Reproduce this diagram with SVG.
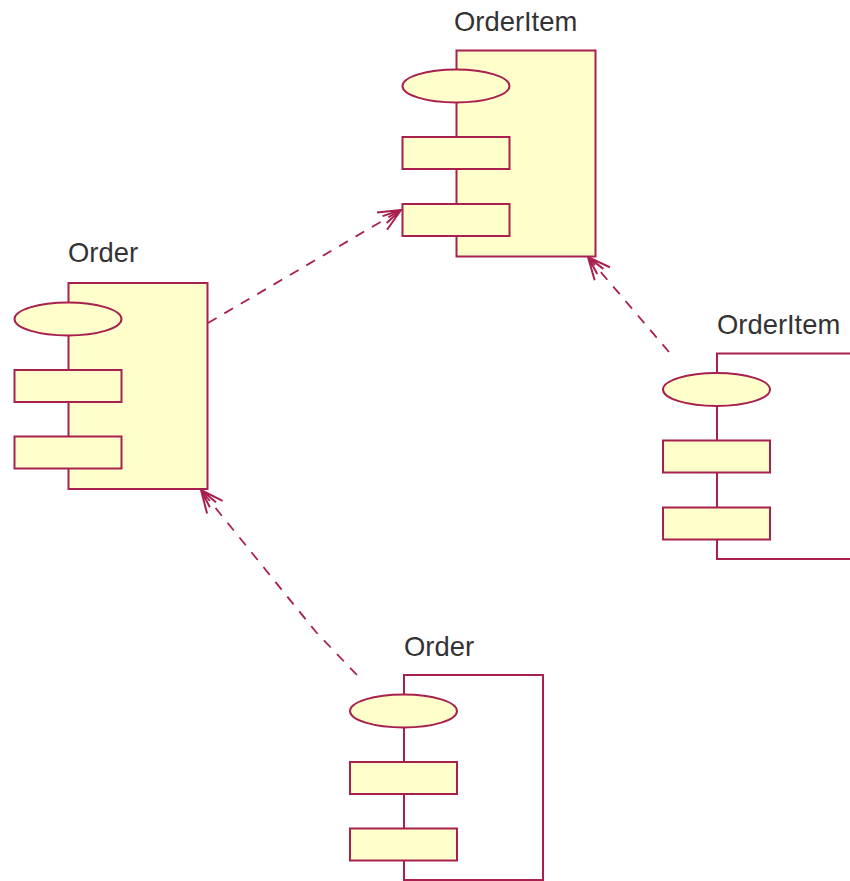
<svg xmlns="http://www.w3.org/2000/svg" width="850" height="881" viewBox="0 0 850 881">
<style>
.s{stroke:#a8204e;stroke-width:2;fill:#ffffcb}
.w{fill:#fff}
.o{fill:none}
.t{font-family:"Liberation Sans",Arial,sans-serif;font-size:27.400px;fill:#333}
.c{stroke:#a8204e;stroke-width:1.800;fill:none;stroke-dasharray:10 9}
.h{stroke:#a8204e;stroke-width:2;fill:none}
</style>
<defs>
<marker id="a" markerUnits="userSpaceOnUse" markerWidth="40" markerHeight="40" refX="30" refY="20" orient="auto">
<path class="h" d="M8 10L30 20L8 30M11 16L30 20M11 24L30 20"/>
</marker>
</defs>
<rect width="850" height="881" fill="#fff"/>
<g id="connectors">
<path class="c" d="M208 323L401 210" marker-end="url(#a)"/>
<path class="c" d="M669 352L588 257" marker-end="url(#a)"/>
<path class="c" d="M357 675L316 632L201 490" marker-end="url(#a)"/>
</g>
<g id="orderitem-top">
<text class="t" x="454" y="31">OrderItem</text>
<rect class="s" x="456.500" y="50.500" width="139" height="206"/>
<ellipse class="s" cx="456" cy="86" rx="53.500" ry="16.500"/>
<rect class="s" x="402.500" y="137" width="107" height="32"/>
<rect class="s" x="402.500" y="204" width="107" height="32"/>
</g>
<g id="order-left">
<text class="t" x="68" y="262">Order</text>
<rect class="s" x="68.500" y="283" width="139" height="206"/>
<ellipse class="s" cx="68" cy="319" rx="53.500" ry="16.500"/>
<rect class="s" x="14.500" y="370" width="107" height="32"/>
<rect class="s" x="14.500" y="436.500" width="107" height="32"/>
</g>
<g id="orderitem-right">
<text class="t" x="717" y="334">OrderItem</text>
<path class="s o" d="M850 353.500H717V559H850"/>
<ellipse class="s" cx="716.500" cy="389.500" rx="53.500" ry="16.500"/>
<rect class="s" x="663" y="440.500" width="107" height="32"/>
<rect class="s" x="663" y="507.500" width="107" height="32"/>
</g>
<g id="order-bottom">
<text class="t" x="404" y="656">Order</text>
<rect class="s w" x="404" y="675" width="139" height="205"/>
<ellipse class="s" cx="403.500" cy="711" rx="53.500" ry="16.500"/>
<rect class="s" x="350" y="762" width="107" height="32"/>
<rect class="s" x="350" y="828.500" width="107" height="32"/>
</g>
</svg>
